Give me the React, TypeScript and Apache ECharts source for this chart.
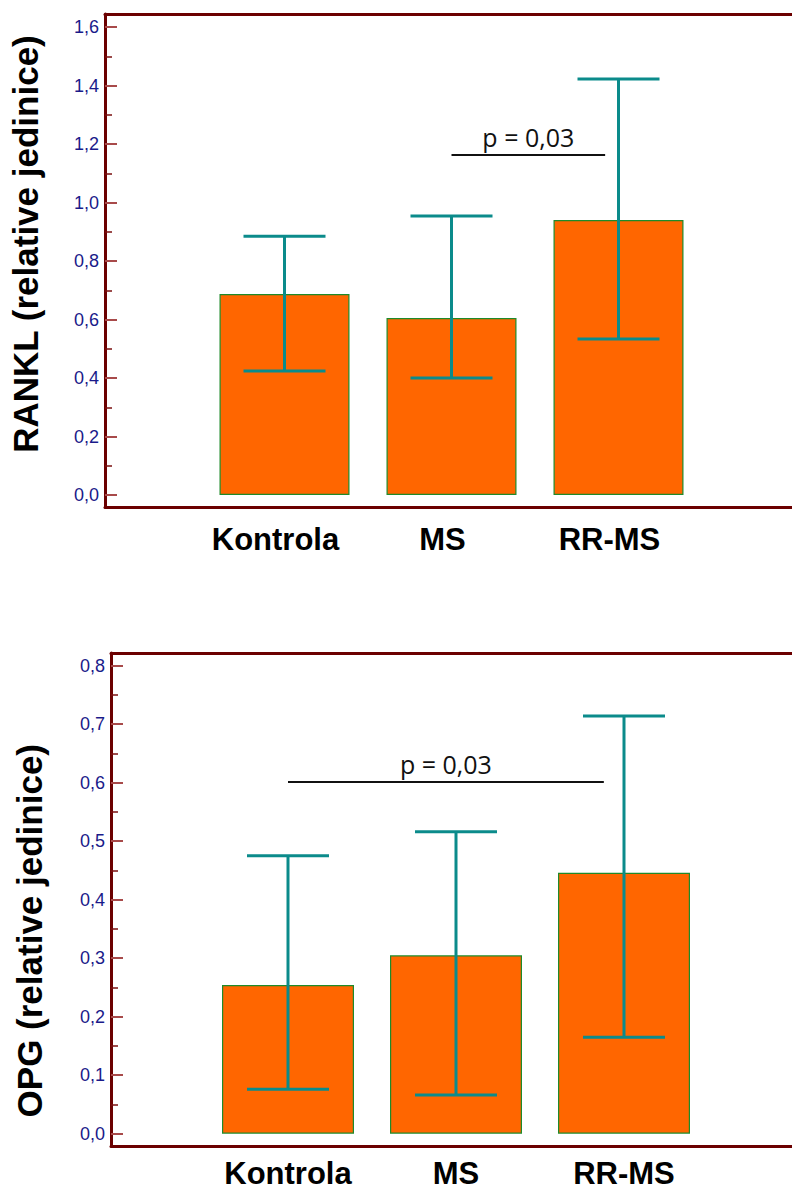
import React, { useEffect, useRef } from 'react';
import * as echarts from 'echarts';

// ---- data ----
const categories = ['Kontrola', 'MS', 'RR-MS'];

const ranklMean = [0.687, 0.605, 0.94];
const ranklLow = [0.424, 0.4, 0.533];
const ranklHigh = [0.885, 0.954, 1.422];
const ranklTicks = [0, 0.2, 0.4, 0.6, 0.8, 1.0, 1.2, 1.4, 1.6];
const ranklSig = [1, 1.92, 1.162]; // from category, to category, value
const ranklSigText = 'p = 0,03';

const opgMean = [0.254, 0.305, 0.446];
const opgLow = [0.076, 0.066, 0.165];
const opgHigh = [0.475, 0.516, 0.714];
const opgTicks = [0, 0.1, 0.2, 0.3, 0.4, 0.5, 0.6, 0.7, 0.8];
const opgSig = [0, 1.88, 0.601];
const opgSigText = 'p = 0,03';

const FRAME = '#6b0000';
const TICK = '#a84a4a';
const LABEL_BLUE = '#1a1a8a';
const TEAL = '#0b8b8b';
const BAR = '#ff6600';
const BAR_EDGE = '#1f8a2a';
const SANS = '"Liberation Sans", Arial, Helvetica, sans-serif';

type Panel = {
  title: string;
  mean: number[];
  low: number[];
  high: number[];
  ticks: number[];
  sig: number[];
  sigText: string;
  frame: { left: number; top: number; height: number };
  bars: { left: number; width: number; top: number; height: number };
  barWidth: number;
  labelShift: number;
  labelMargin: number;
  namePad: number[];
  nameGap: number;
};

function buildPanel(p: Panel, gi: number) {
  const frameIdx = gi * 2;
  const barIdx = gi * 2 + 1;
  const yMax = p.ticks[p.ticks.length - 1];
  const step = p.ticks[1] - p.ticks[0];
  const grids = [
    { left: p.frame.left, top: p.frame.top, height: p.frame.height, right: -20, containLabel: false, outerBoundsMode: 'none' },
    { left: p.bars.left, top: p.bars.top, width: p.bars.width, height: p.bars.height, containLabel: false, outerBoundsMode: 'none' },
  ];
  const hidden = { show: false };
  const xAxes = [
    {
      gridIndex: frameIdx, type: 'value', min: 0, max: 1, position: 'bottom',
      axisLine: { show: true, lineStyle: { color: FRAME, width: 3 } },
      axisTick: hidden, axisLabel: hidden, splitLine: hidden,
    },
    {
      gridIndex: frameIdx, type: 'value', min: 0, max: 1, position: 'top',
      axisLine: { show: true, lineStyle: { color: FRAME, width: 3 } },
      axisTick: hidden, axisLabel: hidden, splitLine: hidden,
    },
    {
      gridIndex: barIdx, type: 'category', data: categories, boundaryGap: true,
      axisLine: hidden, axisTick: hidden, splitLine: hidden,
      axisLabel: {
        color: '#000', fontFamily: SANS, fontWeight: 'bold', fontSize: 31, lineHeight: 20,
        margin: p.labelMargin,
        padding: p.labelShift < 0 ? [0, -2 * p.labelShift, 0, 0] : [0, 0, 0, 2 * p.labelShift],
      },
    },
  ];
  const yAxes = [
    {
      gridIndex: frameIdx, type: 'value', min: 0, max: 1, position: 'left',
      axisLine: { show: true, lineStyle: { color: FRAME, width: 3 } },
      axisTick: hidden, axisLabel: hidden, splitLine: hidden,
    },
    {
      gridIndex: barIdx, type: 'value', min: 0, max: yMax, interval: step, position: 'left',
      offset: p.bars.left - p.frame.left,
      axisLine: hidden,
      axisTick: { show: true, inside: true, length: 12, lineStyle: { color: TICK, width: 2 } },
      minorTick: { show: true, splitNumber: 2, length: 7, lineStyle: { color: '#7a0f0f', width: 1.5 } },
      splitLine: hidden,
      axisLabel: {
        color: LABEL_BLUE, fontFamily: SANS, fontSize: 18, margin: 6,
        formatter: (v: number) => v.toFixed(1).replace('.', ','),
      },
      name: p.title,
      nameLocation: 'middle',
      nameRotate: 90,
      nameGap: p.nameGap,
      nameTextStyle: {
        color: '#000', fontFamily: SANS, fontWeight: 'bold', fontSize: 35,
        padding: p.namePad,
      },
    },
  ];
  const xBase = gi * 3;
  const yBase = gi * 2;
  const series = [
    {
      type: 'bar',
      xAxisIndex: xBase + 2, yAxisIndex: yBase + 1,
      data: p.mean,
      barWidth: p.barWidth,
      itemStyle: { color: BAR, borderColor: BAR_EDGE, borderWidth: 1.2 },
      z: 2,
    },
    {
      type: 'custom',
      xAxisIndex: xBase + 2, yAxisIndex: yBase + 1,
      data: p.mean.map((_, i) => [i, p.low[i], p.high[i]]),
      encode: { x: 0, y: [1, 2] },
      z: 3,
      renderItem: (params: any, api: any) => {
        const x = api.value(0);
        const lo = api.coord([x, api.value(1)]);
        const hi = api.coord([x, api.value(2)]);
        const half = 41;
        const st = { stroke: TEAL, lineWidth: 3, fill: 'none' };
        return {
          type: 'group',
          children: [
            { type: 'line', shape: { x1: hi[0], y1: hi[1], x2: lo[0], y2: lo[1] }, style: st },
            { type: 'line', shape: { x1: hi[0] - half, y1: hi[1], x2: hi[0] + half, y2: hi[1] }, style: st },
            { type: 'line', shape: { x1: lo[0] - half, y1: lo[1], x2: lo[0] + half, y2: lo[1] }, style: st },
          ],
        };
      },
    },
    {
      type: 'custom',
      xAxisIndex: xBase + 2, yAxisIndex: yBase + 1,
      data: [p.sig],
      encode: { y: 2 },
      z: 4,
      renderItem: (params: any, api: any) => {
        const from = api.value(0);
        const to = api.value(1);
        const val = api.value(2);
        const c0 = api.coord([0, val]);
        const c1 = api.coord([1, val]);
        const stepPx = c1[0] - c0[0];
        const x1 = c0[0] + from * stepPx;
        const x2 = c0[0] + to * stepPx;
        return {
          type: 'group',
          children: [
            { type: 'line', shape: { x1, y1: c0[1], x2, y2: c0[1] }, style: { stroke: '#111', lineWidth: 2 } },
            {
              type: 'text',
              style: {
                text: p.sigText, x: (x1 + x2) / 2, y: c0[1] - 6,
                align: 'center', verticalAlign: 'bottom',
                fill: '#111', font: '25px "Open Sans", "Noto Sans", sans-serif',
              },
            },
          ],
        };
      },
    },
  ];
  return { grids, xAxes, yAxes, series };
}

const panels: Panel[] = [
  {
    title: 'RANKL (relative jedinice)',
    mean: ranklMean, low: ranklLow, high: ranklHigh, ticks: ranklTicks,
    sig: ranklSig, sigText: ranklSigText,
    frame: { left: 105, top: 14, height: 493 },
    bars: { left: 201, width: 501, top: 27, height: 468 },
    barWidth: 130,
    labelShift: -9,
    labelMargin: 34,
    namePad: [0, 0, 0, 34],
    nameGap: 62,
  },
  {
    title: 'OPG (relative jedinice)',
    mean: opgMean, low: opgLow, high: opgHigh, ticks: opgTicks,
    sig: opgSig, sigText: opgSigText,
    frame: { left: 111, top: 653, height: 493 },
    bars: { left: 204, width: 504, top: 665.7, height: 468 },
    barWidth: 132,
    labelShift: 0,
    labelMargin: 30,
    namePad: [0, 62, 0, 0],
    nameGap: 64,
  },
];

export default function App() {
  const ref = useRef<HTMLDivElement>(null);
  useEffect(() => {
    if (!ref.current) return;
    const chart = echarts.init(ref.current, null, { renderer: 'svg' });
    const grid: any[] = [];
    const xAxis: any[] = [];
    const yAxis: any[] = [];
    const series: any[] = [];
    panels.forEach((p, gi) => {
      const b = buildPanel(p, gi);
      grid.push(...b.grids);
      xAxis.push(...b.xAxes);
      yAxis.push(...b.yAxes);
      series.push(...b.series);
    });
    chart.setOption({
      animation: false,
      backgroundColor: '#fff',
      grid, xAxis, yAxis, series,
    });
    return () => chart.dispose();
  }, []);
  return (
    <div
      ref={ref}
      style={{ position: 'absolute', left: 0, top: 0, width: 792, height: 1191, background: '#fff' }}
    />
  );
}
